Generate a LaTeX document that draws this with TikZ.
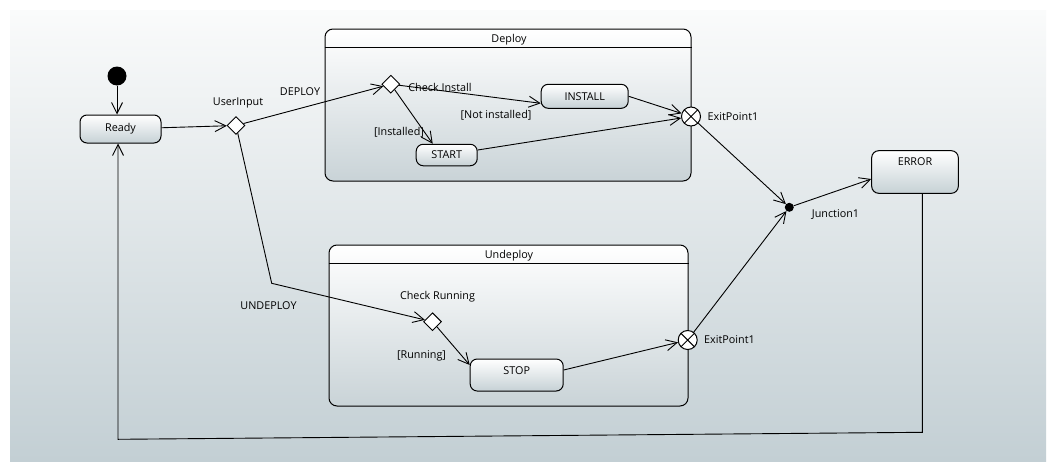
\documentclass[tikz,border=0pt]{standalone}
\usepackage{fontspec}
\setmainfont{Open Sans}
\usetikzlibrary{arrows.meta,shapes.geometric,calc}
\definecolor{bgtop}{HTML}{FAFBFB}
\definecolor{bgbot}{HTML}{C3CFD4}
\definecolor{stbot}{HTML}{C6D1D5}
\definecolor{rgbot}{HTML}{C9D3D7}
\begin{document}
\begin{tikzpicture}[x=1pt,y=-1pt,
  font=\fontsize{10.8}{12}\selectfont,
  arr/.style={draw, line width=0.9pt, -{Straight Barb[length=11pt,width=11pt,line width=0.9pt]}},
  stbox/.style={draw, line width=1pt, rounded corners=7pt, top color=white, bottom color=stbot, inner sep=0pt},
  region/.style={draw, line width=1pt, rounded corners=8pt, top color=white, bottom color=rgbot, inner sep=0pt},
  choice/.style={draw, diamond, fill=white, line width=0.9pt, minimum width=18pt, minimum height=18pt, inner sep=0pt},
  exitpt/.style={draw, circle, fill=white, minimum size=19pt, inner sep=0pt, line width=1pt,
    path picture={\draw[line width=1pt] (path picture bounding box.north west) -- (path picture bounding box.south east)
      (path picture bounding box.south west) -- (path picture bounding box.north east);}},
  lbl/.style={inner sep=0pt}
]
\useasboundingbox (0,0) rectangle (1051,471);
\fill[white] (0,0) rectangle (1051,471);
\shade[top color=bgtop, bottom color=bgbot] (10,10) rectangle (1046,461);

% regions
\node[region, minimum width=366pt, minimum height=152pt] (deploy) at (508,105) {};
\draw[line width=1pt] ($(deploy.north west)+(0,19)$) -- ($(deploy.north east)+(0,19)$);
\node[lbl] (deployt) at ($(deploy.north)+(1,11)$) {Deploy};

\node[region, minimum width=359pt, minimum height=161pt] (undeploy) at (508.5,325.5) {};
\draw[line width=1pt] ($(undeploy.north west)+(0,18.5)$) -- ($(undeploy.north east)+(0,18.5)$);
\node[lbl] (undeployt) at ($(undeploy.north)+(0.5,11)$) {Undeploy};

% states
\node[fill=black, circle, minimum size=19pt, inner sep=0pt] (init) at (117,76) {};
\node[stbox, minimum width=81pt, minimum height=28pt] (ready) at (120.5,129) {Ready};
\node[choice] (ui) at (236,125.5) {};
\node[lbl] (uit) at (238,103) {UserInput};

\node[choice] (ci) at (390.8,84.2) {};
\node[lbl] (cit) at (440,87) {Check Install};
\node[stbox, minimum width=87pt, minimum height=24pt] (install) at (584.7,96.3) {INSTALL};
\node[stbox, minimum width=61pt, minimum height=21.5pt] (start) at (446.7,155) {START};
\node[exitpt] (exit1) at (691,116.5) {};
\node[lbl] (exit1t) at (733,117) {ExitPoint1};

\node[fill=black, circle, minimum size=9pt, inner sep=0pt] (junc) at (789.3,207.3) {};
\node[lbl] (junct) at (835.5,215) {Junction1};
\node[stbox, minimum width=86.6pt, minimum height=42.6pt] (error) at (915,172) {};
\node[lbl] (errort) at (915,162) {ERROR};

\node[choice] (cr) at (432.5,321.7) {};
\node[lbl] (crt) at (437.5,297) {Check Running};
\node[stbox, minimum width=93pt, minimum height=32pt] (stop) at (516.7,375) {};
\node[lbl] (stopt) at (516.7,371) {STOP};
\node[exitpt] (exit2) at (687.7,340) {};
\node[lbl] (exit2t) at (729.5,340) {ExitPoint1};

% labels
\node[lbl] (deploylbl) at (300,91.5) {DEPLOY};
\node[lbl] (undeploylbl) at (268.5,305.5) {UNDEPLOY};
\node[lbl] (notinst) at (496,115) {[Not installed]};
\node[lbl] (inst) at (399,132) {[Installed]};
\node[lbl] (running) at (421.5,355.5) {[Running]};

\coordinate (ubend) at (271.7,283.3);
\coordinate (bl1) at (922.3,432.3);
\coordinate (bl2) at (118,439.3);

% transitions
\draw[arr] (init) -- (ready.north -| init);
\draw[arr] (ready) -- (ui);
\draw[arr] (ui) -- (ci);
\draw[arr] (ci) -- ($(install.west)+(0,7)$);
\draw[arr] (ci) -- ($(start.north)+(-14,0)$);
\draw[arr] (install.east) -- (exit1);
\draw[arr] ($(start.east)+(0,-5)$) -- (exit1);
\draw[arr] (exit1) -- (junc);
\draw[arr] (junc) -- ($(error.west)+(0,7)$);
\draw[arr] (ui) -- (ubend) -- (cr);
\draw[arr] (cr) -- ($(stop.west)+(0,-10)$);
\draw[arr] ($(stop.east)+(0,-5)$) -- (exit2);
\draw[arr] (exit2) -- (junc);
\draw[arr] (error.south -| bl1) -- (bl1) -- (bl2) -- (ready.south -| bl2);
\end{tikzpicture}
\end{document}
